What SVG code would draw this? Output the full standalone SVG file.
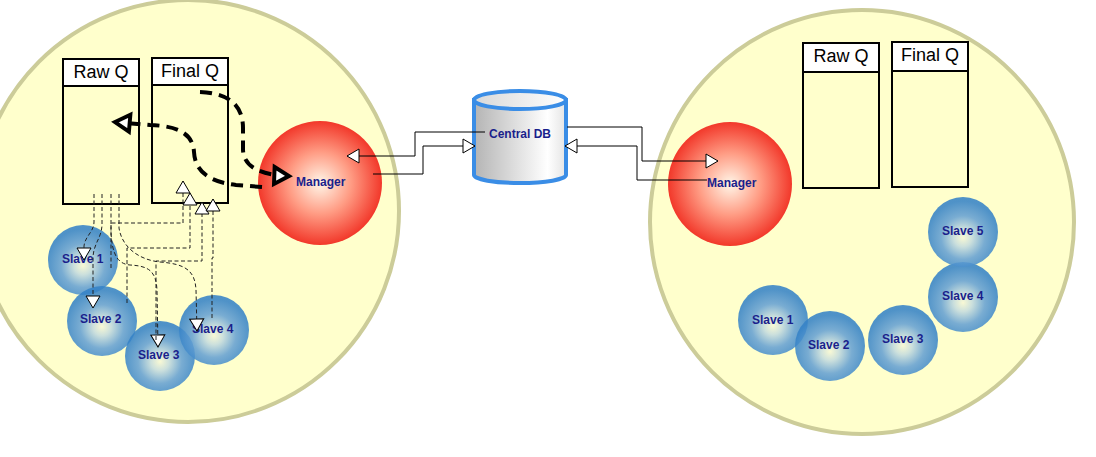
<svg xmlns="http://www.w3.org/2000/svg" width="1096" height="457" viewBox="0 0 1096 457">
<style>
.zone{fill:#ffffcc;stroke:#cccc99;stroke-width:4}
.qbox{fill:none;stroke:#000;stroke-width:2}
.qhead{fill:#fff;stroke:#000;stroke-width:2}
.qt{font-family:"Liberation Sans",Arial,sans-serif;font-size:18px;fill:#000;text-anchor:middle}
.lbl{font-family:"Liberation Sans",Arial,sans-serif;font-size:12px;font-weight:bold;fill:#1a1f8c}
.mgr{fill:url(#gMgr)}
.slv{fill:url(#gSlv);opacity:0.87}
.thin{fill:none;stroke:#222;stroke-width:1;stroke-dasharray:4,2.5}
.thick{fill:none;stroke:#000;stroke-width:4;stroke-dasharray:12,7}
.solid{fill:none;stroke:#000;stroke-width:1}
</style>
<defs>
<radialGradient id="gMgr" cx="0.5" cy="0.5" r="0.5">
<stop offset="0" stop-color="#fff6e8"/>
<stop offset="0.5" stop-color="#ff9c84"/>
<stop offset="1" stop-color="#f2382a"/>
</radialGradient>
<radialGradient id="gSlv" cx="0.5" cy="0.58" r="0.52">
<stop offset="0" stop-color="#f8f8d6"/>
<stop offset="0.25" stop-color="#c4dbdf"/>
<stop offset="0.6" stop-color="#65a0d3"/>
<stop offset="1" stop-color="#3582c7"/>
</radialGradient>
<linearGradient id="gDb" x1="0" y1="0" x2="1" y2="0">
<stop offset="0" stop-color="#b4b4b4"/>
<stop offset="0.8" stop-color="#ffffff"/>
<stop offset="1" stop-color="#e4e4e4"/>
</linearGradient>
<linearGradient id="gDbTop" x1="0" y1="0" x2="1" y2="0">
<stop offset="0" stop-color="#d8d8d8"/>
<stop offset="1" stop-color="#ffffff"/>
</linearGradient>
<marker id="aOpen" markerUnits="userSpaceOnUse" markerWidth="16" markerHeight="16" refX="12" refY="7" orient="auto" viewBox="-1 -1 15 16">
<path d="M0,0 L12,7 L0,14 z" fill="#fff" stroke="#000" stroke-width="1"/>
</marker>
<marker id="aThick" markerUnits="userSpaceOnUse" markerWidth="24" markerHeight="26" refX="14" refY="8.5" orient="auto" viewBox="-3 -3 21 23">
<path d="M1,1 L14,8.5 L1,16 z" fill="#fff" stroke="#000" stroke-width="3.5" stroke-linejoin="miter"/>
</marker>
</defs>

<g id="zone-left"><circle class="zone" cx="188" cy="211" r="211"/></g>
<g id="zone-right"><circle class="zone" cx="862" cy="222" r="212"/></g>

<g id="rawq-left">
<rect class="qbox" x="63" y="59" width="76" height="145"/>
<rect class="qhead" x="63" y="59" width="76" height="27"/>
<text class="qt" x="101" y="78">Raw Q</text>
</g>
<g id="finalq-left">
<rect class="qbox" x="152" y="58" width="76" height="145"/>
<rect class="qhead" x="152" y="58" width="76" height="27"/>
<text class="qt" x="190" y="77">Final Q</text>
</g>
<g id="rawq-right">
<rect class="qbox" x="803" y="43" width="76" height="145"/>
<rect class="qhead" x="803" y="43" width="76" height="29"/>
<text class="qt" x="841" y="62">Raw Q</text>
</g>
<g id="finalq-right">
<rect class="qbox" x="892" y="42" width="76" height="145"/>
<rect class="qhead" x="892" y="42" width="76" height="29"/>
<text class="qt" x="930" y="61">Final Q</text>
</g>

<g id="manager-left">
<circle class="mgr" cx="320" cy="183" r="62"/>
<text class="lbl" x="296" y="186">Manager</text>
</g>
<g id="manager-right">
<circle class="mgr" cx="730" cy="184" r="62"/>
<text class="lbl" x="707" y="187">Manager</text>
</g>

<g id="slave1-left"><circle class="slv" cx="83" cy="260" r="35"/><text class="lbl" x="62" y="263">Slave 1</text></g>
<g id="slave2-left"><circle class="slv" cx="102" cy="321" r="35"/><text class="lbl" x="80" y="323">Slave 2</text></g>
<g id="slave3-left"><circle class="slv" cx="160" cy="356" r="35"/><text class="lbl" x="138" y="359">Slave 3</text></g>
<g id="slave4-left"><circle class="slv" cx="214" cy="330" r="35"/><text class="lbl" x="192" y="333">Slave 4</text></g>

<g id="slave1-right"><circle class="slv" cx="773" cy="320" r="35"/><text class="lbl" x="752" y="324">Slave 1</text></g>
<g id="slave2-right"><circle class="slv" cx="830" cy="346" r="35"/><text class="lbl" x="808" y="349">Slave 2</text></g>
<g id="slave3-right"><circle class="slv" cx="903" cy="340" r="35"/><text class="lbl" x="882" y="343">Slave 3</text></g>
<g id="slave4-right"><circle class="slv" cx="963" cy="297" r="35"/><text class="lbl" x="942" y="300">Slave 4</text></g>
<g id="slave5-right"><circle class="slv" cx="963" cy="232" r="35"/><text class="lbl" x="942" y="235">Slave 5</text></g>

<g id="central-db">
<path d="M474,100 L474,175 A46,8 0 0 0 566,175 L566,100 Z" fill="url(#gDb)" stroke="#3a8de6" stroke-width="4"/>
<ellipse cx="520" cy="100" rx="46" ry="9" fill="url(#gDbTop)" stroke="#3a8de6" stroke-width="4"/>
<text class="lbl" x="489" y="138">Central DB</text>
</g>

<g id="connectors">
<path class="solid" d="M485,132 L415,132 L415,156 L347,156" marker-end="url(#aOpen)"/>
<path class="solid" d="M373,174 L423,174 L423,146 L475,146" marker-end="url(#aOpen)"/>
<path class="solid" d="M567,127 L642,127 L642,161 L718,161" marker-end="url(#aOpen)"/>
<path class="solid" d="M707,180 L637,180 L637,146 L565,146" marker-end="url(#aOpen)"/>

<path class="thick" d="M200,92 C232,93 243,108 243,128 L243,150 C244,168 262,175 289,176" marker-end="url(#aThick)"/>
<path class="thick" d="M262,187 L236,185 C210,182 195,172 194,152 C193,135 180,126 150,125 L115,122" marker-end="url(#aThick)"/>

<path class="thin" d="M94,194 L94,222 C94,232 85,236 84,246 L84,260" marker-end="url(#aOpen)"/>
<path class="thin" d="M102,194 L102,224 C102,238 94,242 93,257 L93,308" marker-end="url(#aOpen)"/>
<path class="thin" d="M111,194 L111,232 C112,255 118,264 130,265 C150,266 156,272 157,290 L158,347" marker-end="url(#aOpen)"/>
<path class="thin" d="M119,194 L119,228 C122,248 140,260 160,262 C185,264 195,270 196,290 L197,331" marker-end="url(#aOpen)"/>
<path class="thin" d="M111,268 L111,223 L183,223 L183,181" marker-end="url(#aOpen)"/>
<path class="thin" d="M127,303 L127,248 L190,248 L190,193" marker-end="url(#aOpen)"/>
<path class="thin" d="M156,340 L156,261 L202,261 L202,202" marker-end="url(#aOpen)"/>
<path class="thin" d="M212,318 L212,258 L213,258 L213,199" marker-end="url(#aOpen)"/>
</g>
</svg>
